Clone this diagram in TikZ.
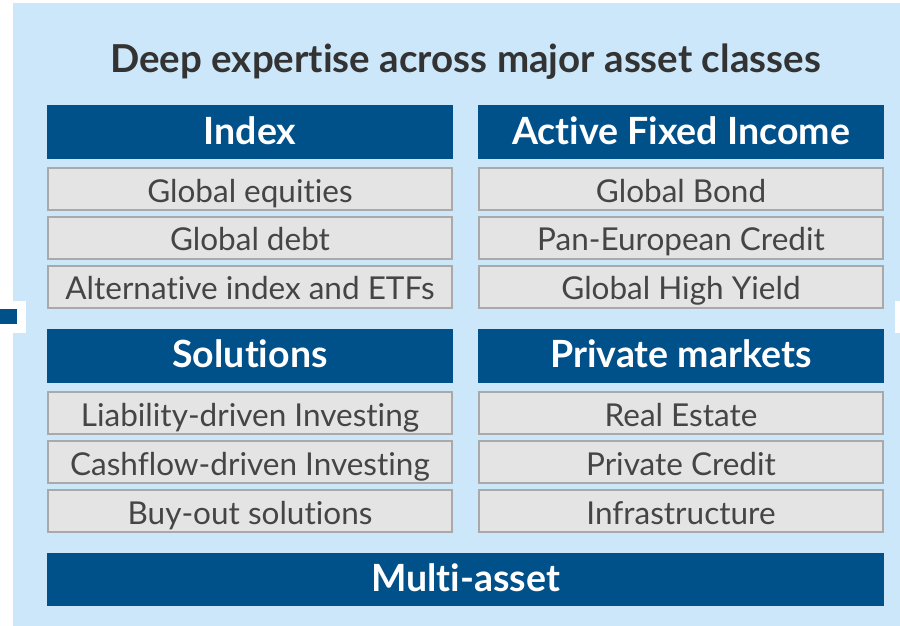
\documentclass[tikz,border=0pt]{standalone}
\usepackage{fontspec}
\setmainfont{Lato}[Ligatures=NoCommon]
\usetikzlibrary{positioning}
\definecolor{panelblue}{HTML}{CCE7F9}
\definecolor{headblue}{HTML}{00508A}
\definecolor{itemgray}{HTML}{E4E4E4}
\definecolor{edgegray}{HTML}{A9A9A9}
\definecolor{txtgray}{HTML}{454545}
\definecolor{titlegray}{HTML}{333333}
\begin{document}
\begin{tikzpicture}[x=1pt, y=-1pt,
  head/.style={
    rectangle, fill=headblue, text=white,
    minimum width=406pt, minimum height=54pt,
    text height=24pt, text depth=0pt,
    inner sep=0pt, font=\fontsize{37.5}{40}\selectfont\bfseries},
  item/.style={
    rectangle, draw=edgegray, line width=2pt, fill=itemgray, text=txtgray,
    minimum width=404pt, minimum height=42pt,
    text height=26pt, text depth=0pt,
    inner sep=0pt, font=\fontsize{31.5}{34}\selectfont},
  ttl/.style={text=titlegray, font=\fontsize{38.5}{42}\selectfont\bfseries},
]
\useasboundingbox (0,0) rectangle (900,626);

%% ---- Background ----
\fill[panelblue] (13,3) rectangle (900,626);
\fill[white] (13,301) rectangle (26,333);
\fill[headblue] (0,309) rectangle (17,324);
\fill[white] (895,301) rectangle (900,333);

%% ---- Title ----
\node[ttl] (title) at (465.5,62) {Deep expertise across major asset classes};

%% ---- Upper row ----
\node[head] (index)  at (250,132) {Index};
\node[item] (ix1)    at (250,189) {Global equities};
\node[item] (ix2)    at (250,237.5) {Global debt};
\node[item] (ix3)    at (250,286.5) {Alternative index and ETFs};

\node[head] (afi)    at (681,132) {Active Fixed Income};
\node[item] (afi1)   at (681,189) {Global Bond};
\node[item] (afi2)   at (681,237.5) {Pan-European Credit};
\node[item] (afi3)   at (681,286.5) {Global High Yield};

%% ---- Lower row ----
\node[head] (sol)    at (250,355.5) {Solutions};
\node[item] (sol1)   at (250,413) {Liability-driven Investing};
\node[item] (sol2)   at (250,462) {Cashflow-driven Investing};
\node[item] (sol3)   at (250,511) {Buy-out solutions};

\node[head] (pm)     at (681,355.5) {Private markets};
\node[item] (pm1)    at (681,413) {Real Estate};
\node[item] (pm2)    at (681,462) {Private Credit};
\node[item] (pm3)    at (681,511) {Infrastructure};

%% ---- Bottom bar ----
\node[head, minimum width=837pt, minimum height=53pt] (multi) at (465.5,579.5) {Multi-asset};

\end{tikzpicture}
\end{document}
